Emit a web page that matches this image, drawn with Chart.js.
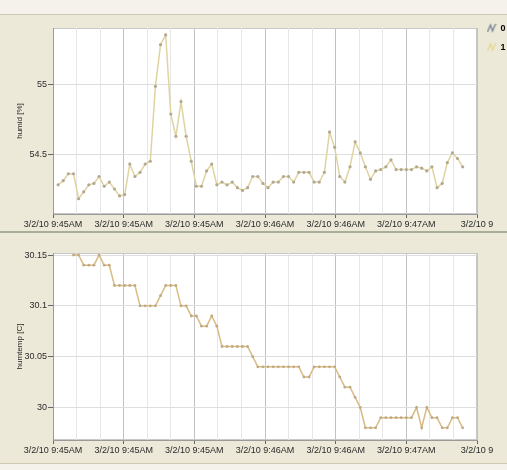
<!DOCTYPE html>
<html>
<head>
<meta charset="utf-8">
<script src="https://cdn.jsdelivr.net/npm/chart.js@4"></script>
<style>
  html, body { margin: 0; padding: 0; }
  body { width: 507px; height: 470px; background: #ece9d8; position: relative; overflow: hidden; }
  .strip { position: absolute; left: 0; width: 507px; }
  #topStrip { top: 0; height: 14px; background: #f4f2ea; border-bottom: 1px solid #cdc8b2; }
  #midLine { top: 231px; height: 2px; background: #a9ae99; }
  #botStrip { top: 463px; height: 7px; background: #f4f2ea; border-top: 1px solid #cdc8b2; }
  canvas { position: absolute; left: 0; }
  #humidChart { top: 0; }
  #tempChart { top: 234px; }
</style>
</head>
<body>
<div class="strip" id="topStrip"></div>
<div class="strip" id="midLine"></div>
<div class="strip" id="botStrip"></div>
<canvas id="humidChart" width="507" height="231"></canvas>
<canvas id="tempChart" width="507" height="229"></canvas>
<script>
// one sample per index
const humidValues = [
  54.28, 54.31, 54.36, 54.36, 54.18, 54.23, 54.28, 54.29, 54.34, 54.27,
  54.30, 54.25, 54.20, 54.21, 54.43, 54.34, 54.37, 54.43, 54.45, 54.99,
  55.29, 55.36, 54.79, 54.63, 54.88, 54.63, 54.45, 54.27, 54.27, 54.38,
  54.43, 54.28, 54.30, 54.28, 54.30, 54.26, 54.24, 54.26, 54.34, 54.34,
  54.29, 54.26, 54.30, 54.30, 54.34, 54.34, 54.30, 54.37, 54.37, 54.37,
  54.30, 54.30, 54.37, 54.66, 54.55, 54.34, 54.30, 54.41, 54.59, 54.51,
  54.41, 54.32, 54.38, 54.39, 54.41, 54.46, 54.39, 54.39, 54.39, 54.39,
  54.41, 54.40, 54.38, 54.41, 54.26, 54.29, 54.44, 54.51, 54.47, 54.41
];
const tempValues = [
  null, null, null, 30.15, 30.15, 30.14, 30.14, 30.14, 30.15, 30.14,
  30.14, 30.12, 30.12, 30.12, 30.12, 30.12, 30.10, 30.10, 30.10, 30.10,
  30.11, 30.12, 30.12, 30.12, 30.10, 30.10, 30.09, 30.09, 30.08, 30.08,
  30.09, 30.08, 30.06, 30.06, 30.06, 30.06, 30.06, 30.06, 30.05, 30.04,
  30.04, 30.04, 30.04, 30.04, 30.04, 30.04, 30.04, 30.04, 30.03, 30.03,
  30.04, 30.04, 30.04, 30.04, 30.04, 30.03, 30.02, 30.02, 30.01, 30.00,
  29.98, 29.98, 29.98, 29.99, 29.99, 29.99, 29.99, 29.99, 29.99, 29.99,
  30.00, 29.98, 30.00, 29.99, 29.99, 29.98, 29.98, 29.99, 29.99, 29.98
];
const timeLabels = [
  '3/2/10 9:45AM', '3/2/10 9:45AM', '3/2/10 9:45AM', '3/2/10 9:46AM',
  '3/2/10 9:46AM', '3/2/10 9:47AM', '3/2/10 9'
];
const humidTicks = [54.5, 55];
const tempTicks = [30, 30.05, 30.1, 30.15];
const legendNames = ['0', '1'];

Chart.defaults.font.family = "'Liberation Sans', Arial, sans-serif";
Chart.defaults.font.size = 9;
Chart.defaults.color = '#333';

const plotBackground = {
  id: 'plotBackground',
  beforeDraw(chart) {
    const { ctx, chartArea: a } = chart;
    ctx.save();
    ctx.fillStyle = '#ffffff';
    ctx.fillRect(a.left, a.top, a.width, a.height);
    ctx.strokeStyle = '#c8c8c8';
    ctx.strokeRect(a.left + 0.5, a.top + 0.5, a.width - 1, a.height - 1);
    ctx.restore();
  }
};

function zigzagIcon(color) {
  const c = document.createElement('canvas');
  c.width = 10;
  c.height = 11;
  const g = c.getContext('2d');
  g.strokeStyle = color;
  g.lineWidth = 1.4;
  g.beginPath();
  g.moveTo(1, 9); g.lineTo(4, 2); g.lineTo(6, 8); g.lineTo(9, 1);
  g.stroke();
  return c;
}

function toPoints(values) {
  return values.map((v, i) => ({ x: i, y: v }));
}

function xAxis(height) {
  return {
    type: 'linear',
    min: -1,
    max: 81.8,
    ticks: {
      stepSize: 4.6,
      autoSkip: false,
      maxRotation: 0,
      padding: 1,
      color: '#2a2a2a',
      callback: (value, index) => index % 3 === 0 ? timeLabels[index / 3] : ''
    },
    grid: {
      color: ctx => ctx.index % 3 === 0 ? '#c2c2c2' : '#e6e6e6',
      tickColor: ctx => ctx.index % 3 === 0 ? '#666' : 'rgba(0,0,0,0)',
      tickLength: 4
    },
    border: { color: '#9a9a9a' },
    afterFit: s => { s.height = height; }
  };
}

function yAxis(min, max, tickValues, title) {
  return {
    min: min,
    max: max,
    afterBuildTicks: axis => { axis.ticks = tickValues.map(v => ({ value: v })); },
    ticks: { padding: 1, color: '#2a2a2a', callback: v => String(v) },
    grid: { color: '#dedede', tickColor: '#666', tickLength: 5 },
    border: { color: '#9a9a9a' },
    title: { display: true, text: title, font: { size: 8 }, color: '#2a2a2a', padding: { top: 5, bottom: 2 } },
    afterFit: s => { s.width = 43; }
  };
}

new Chart(document.getElementById('humidChart'), {
  type: 'line',
  data: {
    datasets: [{
      label: '1',
      data: toPoints(humidValues),
      xAxisID: 'x',
      yAxisID: 'y',
      borderColor: '#e0d3a2',
      borderWidth: 1.5,
      pointRadius: 1.6,
      pointBorderWidth: 0,
      pointBackgroundColor: '#b3a990',
      tension: 0
    }]
  },
  options: {
    responsive: false,
    animation: false,
    layout: { padding: { top: 14, left: 10, right: 0, bottom: 0 } },
    scales: {
      x: xAxis(17),
      xTop: {
        type: 'linear',
        position: 'top',
        ticks: { display: false },
        grid: { display: false, drawTicks: false },
        border: { display: false },
        afterFit: s => { s.height = 14; }
      },
      y: yAxis(54.07, 55.41, humidTicks, 'humid [%]')
    },
    plugins: {
      legend: {
        position: 'right',
        align: 'start',
        maxWidth: 30,
        labels: {
          usePointStyle: true,
          boxWidth: 10,
          padding: 10,
          color: '#222',
          font: { size: 9, weight: 'bold' },
          generateLabels: () => legendNames.map((name, i) => ({
            text: name,
            pointStyle: zigzagIcon(i === 0 ? '#7f8796' : '#e4d894'),
            fillStyle: 'rgba(0,0,0,0)',
            strokeStyle: 'rgba(0,0,0,0)',
            lineWidth: 0,
            hidden: false,
            datasetIndex: 0
          }))
        }
      },
      tooltip: { enabled: false }
    }
  },
  plugins: [plotBackground]
});

new Chart(document.getElementById('tempChart'), {
  type: 'line',
  data: {
    datasets: [{
      label: 'humtemp',
      data: toPoints(tempValues),
      xAxisID: 'x',
      yAxisID: 'y',
      borderColor: '#d8bb85',
      borderWidth: 1.5,
      pointRadius: 1.4,
      pointBorderWidth: 0,
      pointBackgroundColor: '#c2aa80',
      tension: 0
    }]
  },
  options: {
    responsive: false,
    animation: false,
    layout: { padding: { top: 19, left: 10, right: 0, bottom: 0 } },
    scales: {
      x: xAxis(23),
      y: yAxis(29.968, 30.152, tempTicks, 'humtemp [C]'),
      yRight: {
        position: 'right',
        ticks: { display: false },
        grid: { display: false, drawTicks: false },
        border: { display: false },
        afterFit: s => { s.width = 30; }
      }
    },
    plugins: {
      legend: { display: false },
      tooltip: { enabled: false }
    }
  },
  plugins: [plotBackground]
});
</script>
</body>
</html>
